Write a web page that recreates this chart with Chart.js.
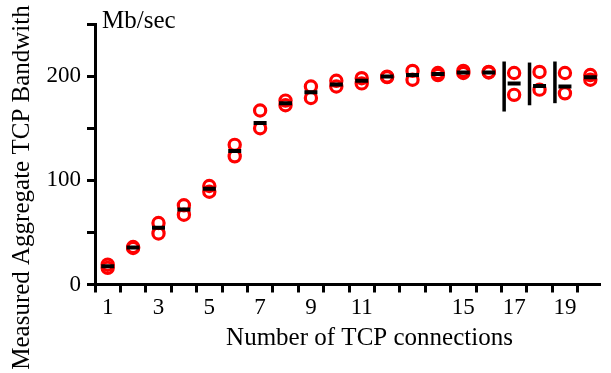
<!DOCTYPE html>
<html>
<head>
<meta charset="utf-8">
<script src="https://cdn.jsdelivr.net/npm/chart.js@4/dist/chart.umd.min.js"></script>
<style>
  html, body { margin: 0; padding: 0; background: #fff; }
  #wrap { width: 611px; height: 373px; }
</style>
</head>
<body>
<div id="wrap"><canvas id="c" width="611" height="373"></canvas></div>
<script>
// Number of parallel TCP connections
const connections = [1, 2, 3, 4, 5, 6, 7, 8, 9, 10, 11, 12, 13, 14, 15, 16, 17, 18, 19, 20];
// Two measured runs per connection count (Mb/sec)
const runA = [19, 36, 59, 76, 94.5, 134, 167, 176.5, 190, 195.5, 198, 199.5, 205, 203, 205, 204, 203, 204, 203, 201];
const runB = [16, 35, 49, 67, 89, 123, 150, 172, 179, 190, 193, 199, 196.5, 201, 203, 203.5, 182, 187, 183.5, 196.5];
// Mean bandwidth per connection count (Mb/sec)
const meanBw = [17.5, 35.5, 54.5, 72, 92, 128, 155, 174, 184.5, 192, 195.5, 199.5, 201, 202, 203.5, 203.5, 193, 190.5, 190, 199];
// Spread shown as vertical bars where runs disagree
const spreadX = [17, 18, 19];
const spreadLow = [166, 172, 174];
const spreadHigh = [214, 213, 214];
// Axis ticks and labels
const xTickMarks = [0.5, 1.5, 2.5, 3.5, 4.5, 5.5, 6.5, 7.5, 8.5, 9.5, 10.5, 11.5, 12.5, 13.5, 14.5, 15.5, 16.5, 17.5, 18.5, 19.5];
const xTickLabels = [1, 3, 5, 7, 9, 11, 15, 17, 19];
const yTickMarks = [0, 50, 100, 150, 200, 250];
const yTickLabels = [0, 100, 200];

const FONT = 'Liberation Serif';
const toPoints = (ys) => connections.map((x, i) => ({ x: x, y: ys[i] }));

const spreadBars = {
  id: 'spreadBars',
  afterDatasetsDraw(chart) {
    const { ctx, scales } = chart;
    ctx.save();
    ctx.strokeStyle = '#000';
    ctx.lineWidth = 3.5;
    spreadX.forEach((x, i) => {
      const px = scales.x.getPixelForValue(x) - 10;
      ctx.beginPath();
      ctx.moveTo(px, scales.y.getPixelForValue(spreadLow[i]));
      ctx.lineTo(px, scales.y.getPixelForValue(spreadHigh[i]));
      ctx.stroke();
    });
    ctx.restore();
  }
};

const titles = {
  id: 'titles',
  afterDraw(chart) {
    const { ctx } = chart;
    ctx.save();
    ctx.fillStyle = '#000';
    ctx.font = '25px "' + FONT + '"';
    ctx.textBaseline = 'alphabetic';
    ctx.textAlign = 'left';
    ctx.fillText('Mb/sec', 102, 28);
    ctx.textAlign = 'center';
    ctx.fillText('Number of TCP connections', 369.5, 345);
    ctx.translate(28.5, 187.5);
    ctx.rotate(-Math.PI / 2);
    ctx.fillText('Measured Aggregate TCP Bandwith', 0, 0);
    ctx.restore();
  }
};

new Chart(document.getElementById('c'), {
  type: 'scatter',
  data: {
    datasets: [
      {
        label: 'mean',
        data: toPoints(meanBw),
        pointStyle: 'line',
        pointRadius: 6.5,
        pointBorderWidth: 4,
        borderColor: '#000',
        backgroundColor: '#000',
        order: 0
      },
      {
        label: 'run A',
        data: toPoints(runA),
        pointStyle: 'circle',
        pointRadius: 5.6,
        pointBorderWidth: 3.2,
        borderColor: '#ff0000',
        backgroundColor: 'rgba(0,0,0,0)',
        order: 1
      },
      {
        label: 'run B',
        data: toPoints(runB),
        pointStyle: 'circle',
        pointRadius: 5.6,
        pointBorderWidth: 3.2,
        borderColor: '#ff0000',
        backgroundColor: 'rgba(0,0,0,0)',
        order: 2
      }
    ]
  },
  options: {
    responsive: false,
    devicePixelRatio: 1,
    animation: false,
    layout: { padding: { left: 0, right: 0, top: 24, bottom: 0 } },
    plugins: { legend: { display: false }, tooltip: { enabled: false } },
    scales: {
      x: {
        type: 'linear',
        position: 'bottom',
        min: 0.5,
        max: 20.4,
        afterBuildTicks: (axis) => {
          const vals = xTickMarks.concat(xTickLabels).sort((a, b) => a - b);
          axis.ticks = vals.map(v => ({ value: v }));
        },
        afterFit: (axis) => { axis.height = 88.5; },
        border: { display: true, color: '#000', width: 3 },
        grid: {
          drawOnChartArea: false,
          drawTicks: true,
          tickLength: 8,
          tickWidth: 3,
          tickColor: (c) => (c.tick && xTickMarks.includes(c.tick.value)) ? '#000' : 'rgba(0,0,0,0)'
        },
        ticks: {
          autoSkip: false,
          maxRotation: 0,
          padding: 2,
          color: '#000',
          font: { family: FONT, size: 23 },
          callback: (v) => xTickLabels.includes(v) ? String(v) : ''
        }
      },
      y: {
        type: 'linear',
        min: 0,
        max: 250,
        afterBuildTicks: (axis) => { axis.ticks = yTickMarks.map(v => ({ value: v })); },
        afterFit: (axis) => { axis.width = 95; },
        border: { display: true, color: '#000', width: 3 },
        grid: {
          drawOnChartArea: false,
          drawTicks: true,
          tickLength: 8,
          tickWidth: 3,
          tickColor: '#000'
        },
        ticks: {
          padding: 6,
          color: '#000',
          font: { family: FONT, size: 23 },
          callback: (v) => yTickLabels.includes(v) ? String(v) : ''
        }
      }
    }
  },
  plugins: [spreadBars, titles]
});
</script>
</body>
</html>
